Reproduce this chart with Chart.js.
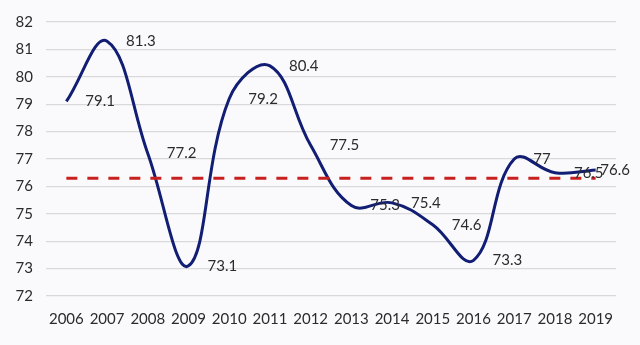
<!DOCTYPE html>
<html>
<head>
<meta charset="utf-8">
<script src="https://cdn.jsdelivr.net/npm/chart.js@4/dist/chart.umd.min.js"></script>
<style>
  html, body { margin: 0; padding: 0; background: #fafafc; }
  #wrap { width: 640px; height: 345px; position: relative; }
</style>
</head>
<body>
<div id="wrap"><canvas id="c" width="640" height="345"></canvas></div>
<script>
const years = ['2006','2007','2008','2009','2010','2011','2012','2013','2014','2015','2016','2017','2018','2019'];
const values = [79.1, 81.3, 77.2, 73.1, 79.2, 80.4, 77.5, 75.3, 75.4, 74.6, 73.3, 77, 76.5, 76.6];
const averageLine = [76.3, 76.3, 76.3, 76.3, 76.3, 76.3, 76.3, 76.3, 76.3, 76.3, 76.3, 76.3, 76.3, 76.3];
const yTicks = [72, 73, 74, 75, 76, 77, 78, 79, 80, 81, 82];

const FONT = 'Lato, "Open Sans", sans-serif';
const TEXT = '#2b2b2b';

const labelPlugin = {
  id: 'valueLabels',
  afterDatasetsDraw(chart) {
    const ctx = chart.ctx;
    const xs = chart.scales.x, ys = chart.scales.y;
    ctx.save();
    ctx.font = '15px ' + FONT;
    ctx.fillStyle = TEXT;
    ctx.textBaseline = 'middle';
    ctx.textAlign = 'left';
    values.forEach((v, i) => {
      const txt = String(v);
      const w = ctx.measureText(txt).width;
      let x = xs.getPixelForValue(i) + 19;
      if (x + w > 630) x = 630 - w;
      const y = ys.getPixelForValue(v);
      ctx.fillText(txt, x, y);
    });
    ctx.restore();
  }
};

new Chart(document.getElementById('c'), {
  type: 'line',
  data: {
    labels: years,
    datasets: [
      {
        data: averageLine,
        borderColor: '#c8201e',
        borderWidth: 3,
        borderDash: [11, 10],
        pointRadius: 0,
        tension: 0,
        fill: false
      },
      {
        data: values,
        borderColor: '#121e74',
        borderWidth: 3,
        pointRadius: 0,
        tension: 0.4,
        fill: false
      }
    ]
  },
  options: {
    responsive: false,
    animation: false,
    layout: { padding: { top: 22, right: 24, bottom: 0, left: 0 } },
    plugins: { legend: { display: false }, tooltip: { enabled: false } },
    scales: {
      x: {
        offset: true,
        grid: { display: false, drawTicks: false },
        border: { display: false },
        ticks: { color: TEXT, font: { family: FONT, size: 15 }, padding: 14, maxRotation: 0, autoSkip: false },
        afterFit(s) { s.height = 49; }
      },
      y: {
        min: 72, max: 82,
        afterBuildTicks(s) { s.ticks = yTicks.map(v => ({ value: v })); },
        grid: { color: '#d9d9d9', lineWidth: 1.2, drawTicks: false },
        border: { display: false },
        ticks: { color: TEXT, font: { family: FONT, size: 15 }, padding: 13 },
        afterFit(s) { s.width = 46; }
      }
    }
  },
  plugins: [labelPlugin]
});
</script>
</body>
</html>
